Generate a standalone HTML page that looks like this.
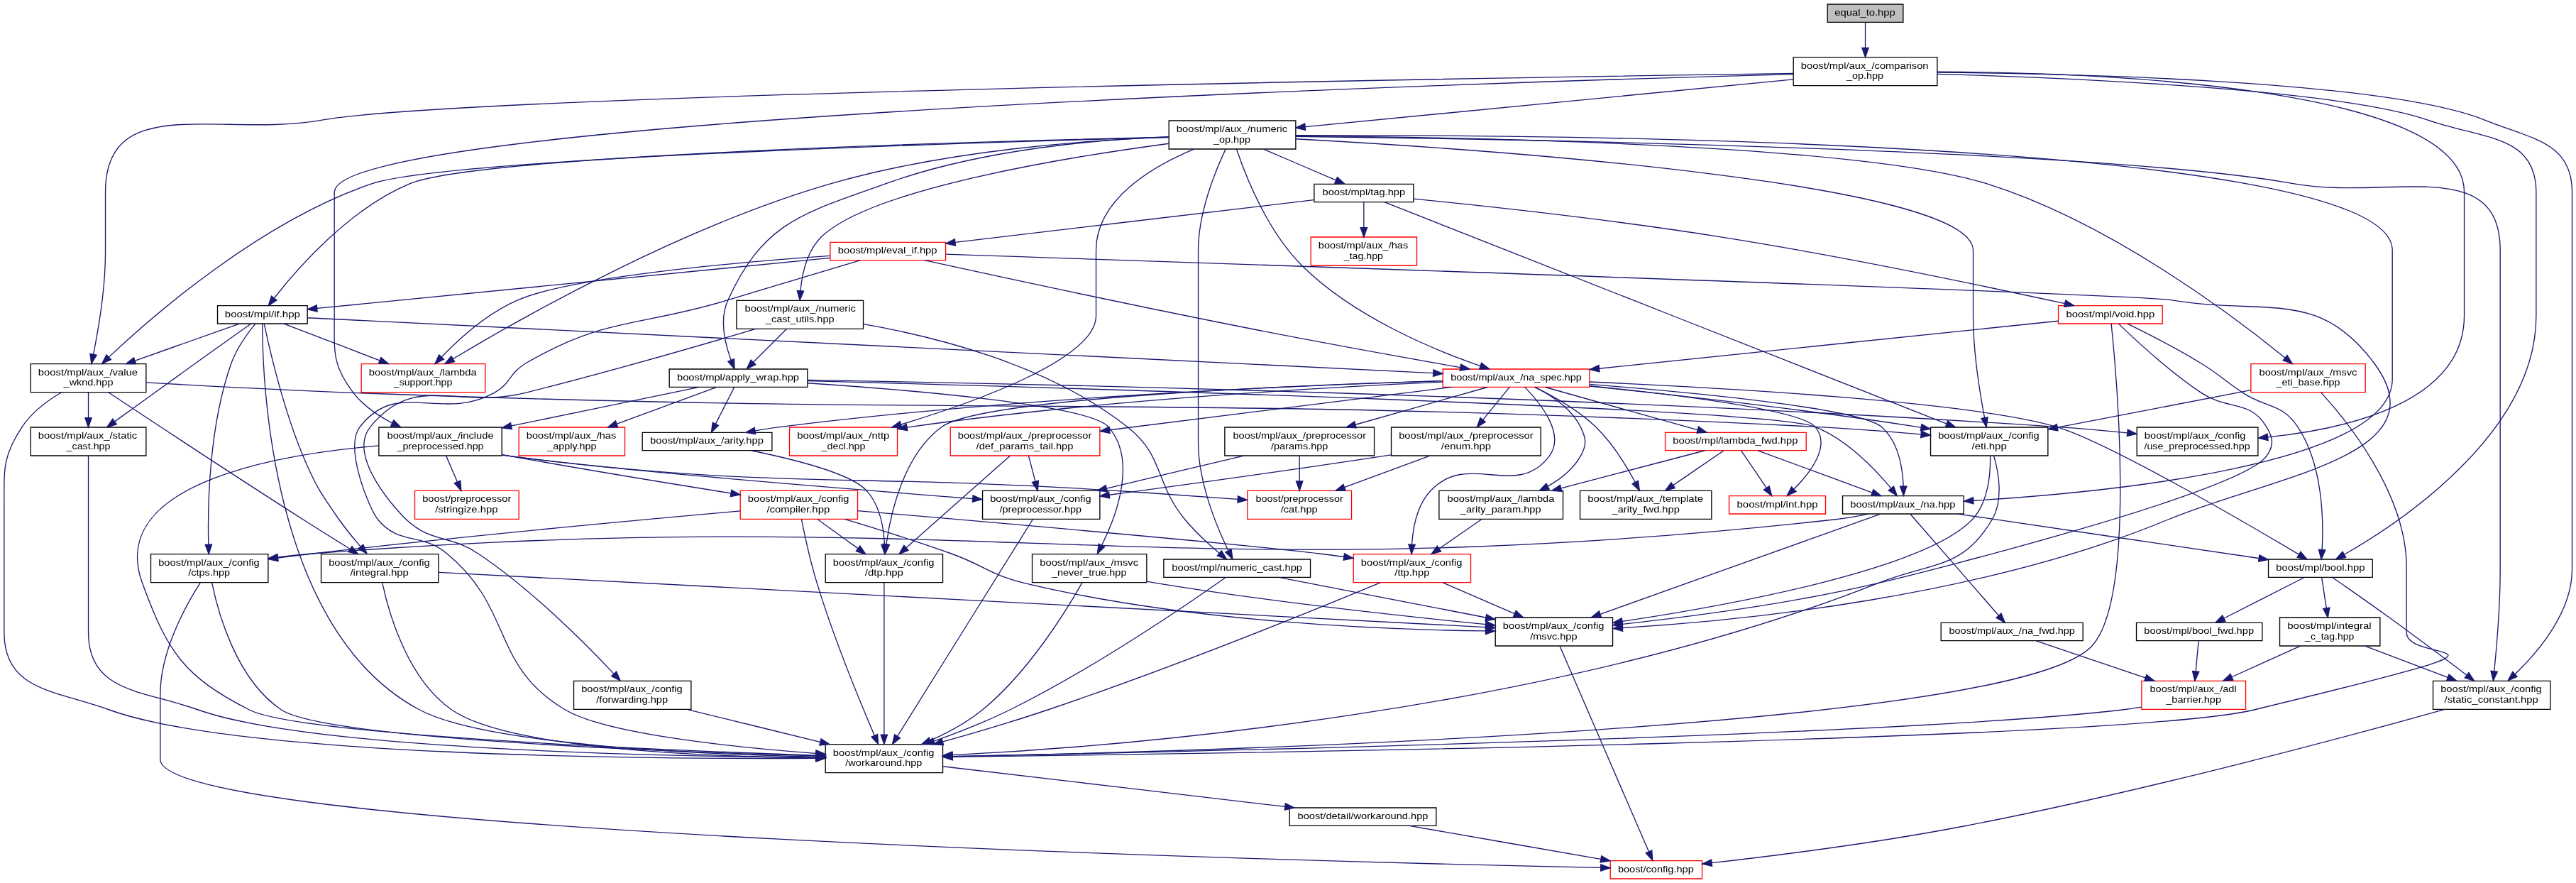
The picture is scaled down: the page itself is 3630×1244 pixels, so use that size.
<!DOCTYPE html>
<html><head><meta charset="utf-8"><title>equal_to.hpp</title>
<style>
html,body{margin:0;padding:0;background:#fff;}
body{width:3630px;height:1244px;overflow:hidden;font-family:"Liberation Sans",sans-serif;}
svg{display:block;will-change:transform;}
text{fill:#000;}
</style></head><body>
<svg width="3630" height="1244" viewBox="0 0 2722.5 933">
<g transform="translate(4 929)" font-family="Liberation Sans, sans-serif" font-size="9.75" text-anchor="middle">
<polygon fill="white" stroke="transparent" points="-4,4 -4,-929 2718.4,-929 2718.4,4 -4,4"/>
<g>
<polygon fill="#bfbfbf" stroke="black" points="1927.4,-905.5 1927.4,-924.5 2007.4,-924.5 2007.4,-905.5 1927.4,-905.5"/>
<text x="1967.02" y="-912.5" textLength="64.07" lengthAdjust="spacingAndGlyphs">equal_to.hpp</text>
</g>
<g>
<polygon fill="white" stroke="black" points="1891.4,-838.5 1891.4,-868.5 2043.4,-868.5 2043.4,-838.5 1891.4,-838.5"/>
<text text-anchor="start" x="1899.40" y="-856.5" textLength="134.71" lengthAdjust="spacingAndGlyphs">boost/mpl/aux_/comparison</text>
<text x="1967.02" y="-845.5" textLength="38.93" lengthAdjust="spacingAndGlyphs">_op.hpp</text>
</g>
<g>
<path fill="none" stroke="midnightblue" d="M1967.4,-905.48C1967.4,-898.47 1967.4,-888.19 1967.4,-878.7"/>
<polygon fill="midnightblue" stroke="midnightblue" points="1970.9,-878.52 1967.4,-868.52 1963.9,-878.52 1970.9,-878.52"/>
</g>
<g>
<polygon fill="white" stroke="black" points="2393.4,-319 2393.4,-338 2503.4,-338 2503.4,-319 2393.4,-319"/>
<text x="2448.40" y="-326" textLength="93.90" lengthAdjust="spacingAndGlyphs">boost/mpl/bool.hpp</text>
</g>
<g>
<path fill="none" stroke="midnightblue" d="M2043.57,-850.74C2181.87,-846.78 2468.64,-834.78 2562.4,-802 2619.89,-781.9 2676.4,-786.89 2676.4,-726 2676.4,-726 2676.4,-726 2676.4,-595.5 2676.4,-471.95 2532.85,-376.99 2473.56,-343.04"/>
<polygon fill="midnightblue" stroke="midnightblue" points="2475.23,-339.97 2464.8,-338.12 2471.8,-346.07 2475.23,-339.97"/>
</g>
<g>
<polygon fill="white" stroke="black" points="2567.4,-179.5 2567.4,-209.5 2691.4,-209.5 2691.4,-179.5 2567.4,-179.5"/>
<text text-anchor="start" x="2575.40" y="-197.5" textLength="106.92" lengthAdjust="spacingAndGlyphs">boost/mpl/aux_/config</text>
<text x="2629.02" y="-186.5" textLength="99.26" lengthAdjust="spacingAndGlyphs">/static_constant.hpp</text>
</g>
<g>
<path fill="none" stroke="midnightblue" d="M2043.68,-852.36C2193.22,-851.14 2519.29,-843.63 2622.4,-802 2671.58,-782.15 2714.4,-779.04 2714.4,-726 2714.4,-726 2714.4,-726 2714.4,-327.5 2714.4,-282.54 2679.12,-240.72 2654.02,-216.66"/>
<polygon fill="midnightblue" stroke="midnightblue" points="2656.31,-214.02 2646.6,-209.78 2651.55,-219.15 2656.31,-214.02"/>
</g>
<g>
<polygon fill="white" stroke="black" points="28.4,-514.5 28.4,-544.5 150.4,-544.5 150.4,-514.5 28.4,-514.5"/>
<text text-anchor="start" x="36.40" y="-532.5" textLength="105.14" lengthAdjust="spacingAndGlyphs">boost/mpl/aux_/value</text>
<text x="89.40" y="-521.5" textLength="52.37" lengthAdjust="spacingAndGlyphs">_wknd.hpp</text>
</g>
<g>
<path fill="none" stroke="midnightblue" d="M1891.35,-851.44C1590.07,-847.09 489.33,-829.43 335.4,-802 230.25,-783.26 107.4,-832.81 107.4,-726 107.4,-726 107.4,-726 107.4,-662.5 107.4,-624.49 99.98,-580.88 94.67,-554.52"/>
<polygon fill="midnightblue" stroke="midnightblue" points="98.09,-553.75 92.62,-544.67 91.23,-555.18 98.09,-553.75"/>
</g>
<g>
<polygon fill="white" stroke="black" points="1231.4,-771.5 1231.4,-801.5 1365.4,-801.5 1365.4,-771.5 1231.4,-771.5"/>
<text text-anchor="start" x="1239.40" y="-789.5" textLength="117.28" lengthAdjust="spacingAndGlyphs">boost/mpl/aux_/numeric</text>
<text x="1298.02" y="-778.5" textLength="38.93" lengthAdjust="spacingAndGlyphs">_op.hpp</text>
</g>
<g>
<path fill="none" stroke="midnightblue" d="M1891.31,-845.11C1762.94,-832.63 1504.73,-807.55 1375.61,-795"/>
<polygon fill="midnightblue" stroke="midnightblue" points="1375.7,-791.49 1365.41,-794.01 1375.02,-798.46 1375.7,-791.49"/>
</g>
<g>
<polygon fill="white" stroke="black" points="2254.4,-447.5 2254.4,-477.5 2382.4,-477.5 2382.4,-447.5 2254.4,-447.5"/>
<text text-anchor="start" x="2262.40" y="-465.5" textLength="106.92" lengthAdjust="spacingAndGlyphs">boost/mpl/aux_/config</text>
<text x="2318.02" y="-454.5" textLength="111.85" lengthAdjust="spacingAndGlyphs">/use_preprocessed.hpp</text>
</g>
<g>
<path fill="none" stroke="midnightblue" d="M2043.44,-853.08C2211.63,-852.33 2600.4,-838.42 2600.4,-726 2600.4,-726 2600.4,-726 2600.4,-595.5 2600.4,-503.69 2476.27,-475.6 2392.72,-467.09"/>
<polygon fill="midnightblue" stroke="midnightblue" points="2393.03,-463.61 2382.75,-466.15 2392.37,-470.57 2393.03,-463.61"/>
</g>
<g>
<polygon fill="white" stroke="black" points="396.4,-447.5 396.4,-477.5 526.4,-477.5 526.4,-447.5 396.4,-447.5"/>
<text text-anchor="start" x="405.15" y="-465.5" textLength="112.55" lengthAdjust="spacingAndGlyphs">boost/mpl/aux_/include</text>
<text x="461.40" y="-454.5" textLength="91.53" lengthAdjust="spacingAndGlyphs">_preprocessed.hpp</text>
</g>
<g>
<path fill="none" stroke="midnightblue" d="M1891.26,-850.59C1570.96,-842.05 349.4,-804.34 349.4,-726 349.4,-726 349.4,-726 349.4,-595.5 349.4,-558.2 346.69,-543.58 369.4,-514 379.88,-500.36 395.14,-489.91 410.23,-482.15"/>
<polygon fill="midnightblue" stroke="midnightblue" points="412.06,-485.15 419.56,-477.67 409.03,-478.85 412.06,-485.15"/>
</g>
<g>
<polygon fill="white" stroke="black" points="2253.9,-252 2253.9,-271 2386.9,-271 2386.9,-252 2253.9,-252"/>
<text x="2320.02" y="-259" textLength="116.02" lengthAdjust="spacingAndGlyphs">boost/mpl/bool_fwd.hpp</text>
</g>
<g>
<path fill="none" stroke="midnightblue" d="M2431.41,-318.87C2409.7,-307.84 2371.91,-288.66 2346.53,-275.77"/>
<polygon fill="midnightblue" stroke="midnightblue" points="2347.97,-272.57 2337.47,-271.17 2344.8,-278.82 2347.97,-272.57"/>
</g>
<g>
<polygon fill="white" stroke="black" points="2405.4,-246.5 2405.4,-276.5 2511.4,-276.5 2511.4,-246.5 2405.4,-246.5"/>
<text text-anchor="start" x="2413.40" y="-264.5" textLength="88.88" lengthAdjust="spacingAndGlyphs">boost/mpl/integral</text>
<text x="2458.02" y="-253.5" textLength="51.86" lengthAdjust="spacingAndGlyphs">_c_tag.hpp</text>
</g>
<g>
<path fill="none" stroke="midnightblue" d="M2449.75,-318.73C2451.01,-310.54 2452.95,-297.92 2454.68,-286.71"/>
<polygon fill="midnightblue" stroke="midnightblue" points="2458.17,-287 2456.24,-276.59 2451.26,-285.94 2458.17,-287"/>
</g>
<g>
<path fill="none" stroke="midnightblue" d="M2460.97,-318.86C2475.41,-308.89 2499.75,-291.96 2520.4,-277 2548.78,-256.44 2580.87,-232.35 2602.83,-215.72"/>
<polygon fill="midnightblue" stroke="midnightblue" points="2605.16,-218.35 2611.02,-209.52 2600.93,-212.77 2605.16,-218.35"/>
</g>
<g>
<polygon fill="white" stroke="red" points="2259.4,-179.5 2259.4,-209.5 2369.4,-209.5 2369.4,-179.5 2259.4,-179.5"/>
<text text-anchor="start" x="2268.15" y="-197.5" textLength="91.58" lengthAdjust="spacingAndGlyphs">boost/mpl/aux_/adl</text>
<text x="2314.38" y="-186.5" textLength="58.36" lengthAdjust="spacingAndGlyphs">_barrier.hpp</text>
</g>
<g>
<path fill="none" stroke="midnightblue" d="M2319.59,-251.73C2318.84,-243.54 2317.67,-230.92 2316.64,-219.71"/>
<polygon fill="midnightblue" stroke="midnightblue" points="2320.11,-219.22 2315.7,-209.59 2313.14,-219.87 2320.11,-219.22"/>
</g>
<g>
<polygon fill="white" stroke="black" points="868.4,-112.5 868.4,-142.5 992.4,-142.5 992.4,-112.5 868.4,-112.5"/>
<text text-anchor="start" x="876.40" y="-130.5" textLength="106.92" lengthAdjust="spacingAndGlyphs">boost/mpl/aux_/config</text>
<text x="930.02" y="-119.5" textLength="81.02" lengthAdjust="spacingAndGlyphs">/workaround.hpp</text>
</g>
<g>
<path fill="none" stroke="midnightblue" d="M2259.26,-181.85C2252.59,-180.73 2245.86,-179.74 2239.4,-179 1996.89,-151.04 1240.55,-134.46 1002.74,-129.84"/>
<polygon fill="midnightblue" stroke="midnightblue" points="1002.54,-126.33 992.48,-129.64 1002.41,-133.33 1002.54,-126.33"/>
</g>
<g>
<polygon fill="white" stroke="black" points="1358.9,-56.5 1358.9,-75.5 1513.9,-75.5 1513.9,-56.5 1358.9,-56.5"/>
<text x="1436.40" y="-63.5" textLength="137.96" lengthAdjust="spacingAndGlyphs">boost/detail/workaround.hpp</text>
</g>
<g>
<path fill="none" stroke="midnightblue" d="M992.45,-119.2C1083.28,-108.52 1252.61,-88.61 1353.86,-76.71"/>
<polygon fill="midnightblue" stroke="midnightblue" points="1354.52,-80.15 1364.04,-75.51 1353.7,-73.2 1354.52,-80.15"/>
</g>
<g>
<polygon fill="white" stroke="red" points="1697.9,-0.5 1697.9,-19.5 1794.9,-19.5 1794.9,-0.5 1697.9,-0.5"/>
<text x="1746.02" y="-7.5" textLength="80.15" lengthAdjust="spacingAndGlyphs">boost/config.hpp</text>
</g>
<g>
<path fill="none" stroke="midnightblue" d="M1485.52,-56.44C1540.36,-46.89 1629.07,-31.44 1687.57,-21.25"/>
<polygon fill="midnightblue" stroke="midnightblue" points="1688.52,-24.64 1697.77,-19.47 1687.32,-17.74 1688.52,-24.64"/>
</g>
<g>
<path fill="none" stroke="midnightblue" d="M2427.16,-246.4C2405.93,-236.81 2377.65,-224.05 2354.73,-213.7"/>
<polygon fill="midnightblue" stroke="midnightblue" points="2356.14,-210.5 2345.59,-209.58 2353.26,-216.88 2356.14,-210.5"/>
</g>
<g>
<path fill="none" stroke="midnightblue" d="M2495.51,-246.4C2521.17,-236.64 2555.49,-223.59 2582.97,-213.15"/>
<polygon fill="midnightblue" stroke="midnightblue" points="2584.27,-216.4 2592.37,-209.58 2581.78,-209.86 2584.27,-216.4"/>
</g>
<g>
<path fill="none" stroke="midnightblue" d="M2579.77,-179.42C2482.78,-152.32 2261,-92.38 2071.4,-56 1979.01,-38.27 1870.55,-24.69 1805.22,-17.28"/>
<polygon fill="midnightblue" stroke="midnightblue" points="1805.44,-13.78 1795.12,-16.14 1804.66,-20.74 1805.44,-13.78"/>
</g>
<g>
<path fill="none" stroke="midnightblue" d="M60.98,-514.4C46.45,-505.8 29.7,-493.47 19.4,-478 -1.21,-447.04 0.4,-433.69 0.4,-396.5 0.4,-396.5 0.4,-396.5 0.4,-260.5 0.4,-199.3 53.86,-199.84 111.4,-179 247.66,-129.66 684.6,-126.85 858.26,-127.77"/>
<polygon fill="midnightblue" stroke="midnightblue" points="858.3,-131.27 868.32,-127.83 858.34,-124.27 858.3,-131.27"/>
</g>
<g>
<polygon fill="white" stroke="black" points="28.4,-447.5 28.4,-477.5 150.4,-477.5 150.4,-447.5 28.4,-447.5"/>
<text text-anchor="start" x="36.40" y="-465.5" textLength="104.53" lengthAdjust="spacingAndGlyphs">boost/mpl/aux_/static</text>
<text x="89.40" y="-454.5" textLength="46.47" lengthAdjust="spacingAndGlyphs">_cast.hpp</text>
</g>
<g>
<path fill="none" stroke="midnightblue" d="M89.4,-514.4C89.4,-506.64 89.4,-496.81 89.4,-487.86"/>
<polygon fill="midnightblue" stroke="midnightblue" points="92.9,-487.58 89.4,-477.58 85.9,-487.58 92.9,-487.58"/>
</g>
<g>
<polygon fill="white" stroke="black" points="335.4,-313.5 335.4,-343.5 459.4,-343.5 459.4,-313.5 335.4,-313.5"/>
<text text-anchor="start" x="343.40" y="-331.5" textLength="106.92" lengthAdjust="spacingAndGlyphs">boost/mpl/aux_/config</text>
<text x="397.02" y="-320.5" textLength="61.89" lengthAdjust="spacingAndGlyphs">/integral.hpp</text>
</g>
<g>
<path fill="none" stroke="midnightblue" d="M110.58,-514.42C150.61,-487.87 240.2,-428.67 316.4,-380 332.6,-369.66 350.73,-358.33 365.74,-349.02"/>
<polygon fill="midnightblue" stroke="midnightblue" points="367.97,-351.76 374.63,-343.52 364.28,-345.81 367.97,-351.76"/>
</g>
<g>
<polygon fill="white" stroke="black" points="2036.4,-447.5 2036.4,-477.5 2160.4,-477.5 2160.4,-447.5 2036.4,-447.5"/>
<text text-anchor="start" x="2044.40" y="-465.5" textLength="106.92" lengthAdjust="spacingAndGlyphs">boost/mpl/aux_/config</text>
<text x="2098.40" y="-454.5" textLength="36.93" lengthAdjust="spacingAndGlyphs">/eti.hpp</text>
</g>
<g>
<path fill="none" stroke="midnightblue" d="M150.56,-524.83C207.27,-521.55 294.01,-516.83 369.4,-514 1055.77,-488.24 1228.44,-512.99 1914.4,-478 1951.24,-476.12 1992.14,-473 2026.01,-470.14"/>
<polygon fill="midnightblue" stroke="midnightblue" points="2026.62,-473.6 2036.29,-469.26 2026.02,-466.62 2026.62,-473.6"/>
</g>
<g>
<path fill="none" stroke="midnightblue" d="M89.4,-447.24C89.4,-423.03 89.4,-372.35 89.4,-329.5 89.4,-329.5 89.4,-329.5 89.4,-260.5 89.4,-197.49 146.02,-200.07 205.4,-179 324.23,-136.83 699.41,-129.73 858.24,-128.64"/>
<polygon fill="midnightblue" stroke="midnightblue" points="858.41,-132.14 868.39,-128.57 858.37,-125.14 858.41,-132.14"/>
</g>
<g>
<path fill="none" stroke="midnightblue" d="M400.07,-313.1C406.55,-282.59 426.2,-211.56 473.4,-179 534.09,-137.13 745.16,-129.39 857.98,-128.33"/>
<polygon fill="midnightblue" stroke="midnightblue" points="858.28,-131.83 868.25,-128.25 858.22,-124.83 858.28,-131.83"/>
</g>
<g>
<polygon fill="white" stroke="black" points="1576.4,-246.5 1576.4,-276.5 1700.4,-276.5 1700.4,-246.5 1576.4,-246.5"/>
<text text-anchor="start" x="1584.40" y="-264.5" textLength="106.92" lengthAdjust="spacingAndGlyphs">boost/mpl/aux_/config</text>
<text x="1638.02" y="-253.5" textLength="49.70" lengthAdjust="spacingAndGlyphs">/msvc.hpp</text>
</g>
<g>
<path fill="none" stroke="midnightblue" d="M459.8,-324.23C668.69,-313.29 1342.89,-277.98 1565.98,-266.29"/>
<polygon fill="midnightblue" stroke="midnightblue" points="1566.45,-269.77 1576.26,-265.76 1566.09,-262.78 1566.45,-269.77"/>
</g>
<g>
<path fill="none" stroke="midnightblue" d="M1644.52,-246.37C1662.94,-203.82 1717.88,-76.89 1738.48,-29.3"/>
<polygon fill="midnightblue" stroke="midnightblue" points="1741.78,-30.5 1742.54,-19.93 1735.35,-27.72 1741.78,-30.5"/>
</g>
<g>
<path fill="none" stroke="midnightblue" d="M2103.23,-447.42C2108.2,-430.23 2113.66,-400.88 2101.4,-380 2070.48,-327.32 2038.23,-335.39 1981.4,-313 1632.02,-175.32 1176.95,-140 1002.65,-131.26"/>
<polygon fill="midnightblue" stroke="midnightblue" points="1002.72,-127.76 992.57,-130.77 1002.38,-134.75 1002.72,-127.76"/>
</g>
<g>
<path fill="none" stroke="midnightblue" d="M2099.39,-447.4C2099.85,-429.36 2097.77,-398.27 2080.4,-380 2029.94,-326.91 1822.65,-289.32 1710.79,-272.46"/>
<polygon fill="midnightblue" stroke="midnightblue" points="1711,-268.95 1700.6,-270.94 1709.97,-275.87 1711,-268.95"/>
</g>
<g>
<path fill="none" stroke="midnightblue" d="M1365.75,-784.81C1575.52,-782.3 2215.33,-771.76 2419.4,-735 2520.04,-716.87 2638.4,-766.75 2638.4,-664.5 2638.4,-664.5 2638.4,-664.5 2638.4,-327.5 2638.4,-289.92 2634.73,-246.45 2632.07,-219.98"/>
<polygon fill="midnightblue" stroke="midnightblue" points="2635.52,-219.32 2631.01,-209.74 2628.56,-220.05 2635.52,-219.32"/>
</g>
<g>
<path fill="none" stroke="midnightblue" d="M1231.34,-783.85C1034.68,-778.72 468.36,-761.77 389.4,-735 271.75,-695.11 157.43,-595.42 111.05,-551.66"/>
<polygon fill="midnightblue" stroke="midnightblue" points="113.35,-549.02 103.7,-544.65 108.52,-554.08 113.35,-549.02"/>
</g>
<g>
<path fill="none" stroke="midnightblue" d="M1365.5,-782.16C1555.14,-771.83 2081.4,-736.67 2081.4,-664.5 2081.4,-664.5 2081.4,-664.5 2081.4,-595.5 2081.4,-557.52 2088.41,-513.9 2093.43,-487.54"/>
<polygon fill="midnightblue" stroke="midnightblue" points="2096.87,-488.17 2095.36,-477.68 2090,-486.82 2096.87,-488.17"/>
</g>
<g>
<polygon fill="white" stroke="black" points="1225.9,-319 1225.9,-338 1380.9,-338 1380.9,-319 1225.9,-319"/>
<text x="1303.40" y="-326" textLength="137.75" lengthAdjust="spacingAndGlyphs">boost/mpl/numeric_cast.hpp</text>
</g>
<g>
<path fill="none" stroke="midnightblue" d="M1291.29,-771.38C1280.8,-749.21 1262.4,-704.61 1262.4,-664.5 1262.4,-664.5 1262.4,-664.5 1262.4,-461.5 1262.4,-419.09 1281.95,-372.32 1294.05,-347.42"/>
<polygon fill="midnightblue" stroke="midnightblue" points="1297.34,-348.68 1298.7,-338.17 1291.08,-345.53 1297.34,-348.68"/>
</g>
<g>
<polygon fill="white" stroke="black" points="703.4,-520 703.4,-539 849.4,-539 849.4,-520 703.4,-520"/>
<text x="776.02" y="-527" textLength="129.07" lengthAdjust="spacingAndGlyphs">boost/mpl/apply_wrap.hpp</text>
</g>
<g>
<path fill="none" stroke="midnightblue" d="M1231.29,-784.57C1156.33,-781.65 1032.39,-771.14 932.4,-735 845.71,-703.66 803.61,-695.89 765.4,-612 756.09,-591.56 762.38,-565.45 768.61,-548.37"/>
<polygon fill="midnightblue" stroke="midnightblue" points="771.88,-549.62 772.34,-539.04 765.38,-547.02 771.88,-549.62"/>
</g>
<g>
<polygon fill="white" stroke="black" points="1943.4,-386 1943.4,-405 2071.4,-405 2071.4,-386 1943.4,-386"/>
<text x="2007.02" y="-393" textLength="111.00" lengthAdjust="spacingAndGlyphs">boost/mpl/aux_/na.hpp</text>
</g>
<g>
<path fill="none" stroke="midnightblue" d="M1365.63,-785.98C1622.06,-786.93 2524.4,-781.93 2524.4,-664.5 2524.4,-664.5 2524.4,-664.5 2524.4,-528.5 2524.4,-438.2 2224.6,-408.88 2081.6,-400.04"/>
<polygon fill="midnightblue" stroke="midnightblue" points="2081.77,-396.54 2071.58,-399.43 2081.35,-403.53 2081.77,-396.54"/>
</g>
<g>
<polygon fill="white" stroke="black" points="225.9,-587 225.9,-606 320.9,-606 320.9,-587 225.9,-587"/>
<text x="273.40" y="-594" textLength="79.60" lengthAdjust="spacingAndGlyphs">boost/mpl/if.hpp</text>
</g>
<g>
<path fill="none" stroke="midnightblue" d="M1231.08,-784.11C1039.89,-779.81 502.73,-765.16 429.4,-735 365.28,-708.63 309.58,-644.44 285.74,-614.02"/>
<polygon fill="midnightblue" stroke="midnightblue" points="288.5,-611.87 279.64,-606.07 282.95,-616.13 288.5,-611.87"/>
</g>
<g>
<polygon fill="white" stroke="red" points="1520.9,-520 1520.9,-539 1675.9,-539 1675.9,-520 1520.9,-520"/>
<text x="1598.40" y="-527" textLength="138.46" lengthAdjust="spacingAndGlyphs">boost/mpl/aux_/na_spec.hpp</text>
</g>
<g>
<path fill="none" stroke="midnightblue" d="M1302.87,-771.29C1312.01,-744.23 1335.14,-684.73 1372.4,-648 1427.2,-593.98 1511.93,-559.11 1560.57,-542.31"/>
<polygon fill="midnightblue" stroke="midnightblue" points="1561.74,-545.61 1570.09,-539.1 1559.5,-538.98 1561.74,-545.61"/>
</g>
<g>
<polygon fill="white" stroke="red" points="830.4,-447.5 830.4,-477.5 944.4,-477.5 944.4,-447.5 830.4,-447.5"/>
<text text-anchor="start" x="838.40" y="-465.5" textLength="97.60" lengthAdjust="spacingAndGlyphs">boost/mpl/aux_/nttp</text>
<text x="887.40" y="-454.5" textLength="46.49" lengthAdjust="spacingAndGlyphs">_decl.hpp</text>
</g>
<g>
<path fill="none" stroke="midnightblue" d="M1257.91,-771.41C1215.32,-753.7 1154.4,-718.87 1154.4,-664.5 1154.4,-664.5 1154.4,-664.5 1154.4,-595.5 1154.4,-549.82 1027.21,-504.31 948.4,-480.5"/>
<polygon fill="midnightblue" stroke="midnightblue" points="949.15,-477.07 938.57,-477.57 947.15,-483.78 949.15,-477.07"/>
</g>
<g>
<polygon fill="white" stroke="red" points="377.9,-514.5 377.9,-544.5 508.9,-544.5 508.9,-514.5 377.9,-514.5"/>
<text text-anchor="start" x="385.90" y="-532.5" textLength="113.80" lengthAdjust="spacingAndGlyphs">boost/mpl/aux_/lambda</text>
<text x="443.02" y="-521.5" textLength="61.86" lengthAdjust="spacingAndGlyphs">_support.hpp</text>
</g>
<g>
<path fill="none" stroke="midnightblue" d="M1231.35,-784.18C1146.64,-781.01 997.09,-770.38 874.4,-735 716.37,-689.42 544.17,-591.5 474.87,-549.87"/>
<polygon fill="midnightblue" stroke="midnightblue" points="476.54,-546.79 466.17,-544.61 472.92,-552.78 476.54,-546.79"/>
</g>
<g>
<polygon fill="white" stroke="black" points="1384.9,-715.5 1384.9,-734.5 1489.9,-734.5 1489.9,-715.5 1384.9,-715.5"/>
<text x="1437.40" y="-722.5" textLength="87.43" lengthAdjust="spacingAndGlyphs">boost/mpl/tag.hpp</text>
</g>
<g>
<path fill="none" stroke="midnightblue" d="M1331.34,-771.4C1354.56,-761.46 1385.39,-748.26 1407.82,-738.66"/>
<polygon fill="midnightblue" stroke="midnightblue" points="1409.36,-741.81 1417.18,-734.66 1406.61,-735.38 1409.36,-741.81"/>
</g>
<g>
<polygon fill="white" stroke="black" points="774.4,-581.5 774.4,-611.5 908.4,-611.5 908.4,-581.5 774.4,-581.5"/>
<text text-anchor="start" x="783.15" y="-599.5" textLength="117.28" lengthAdjust="spacingAndGlyphs">boost/mpl/aux_/numeric</text>
<text x="841.40" y="-588.5" textLength="72.49" lengthAdjust="spacingAndGlyphs">_cast_utils.hpp</text>
</g>
<g>
<path fill="none" stroke="midnightblue" d="M1231.31,-777.33C1122.99,-762.82 916.43,-729.27 864.4,-679 849.1,-664.21 843.75,-640.08 841.99,-621.91"/>
<polygon fill="midnightblue" stroke="midnightblue" points="845.47,-621.5 841.31,-611.76 838.48,-621.97 845.47,-621.5"/>
</g>
<g>
<polygon fill="white" stroke="red" points="2374.9,-514.5 2374.9,-544.5 2495.9,-544.5 2495.9,-514.5 2374.9,-514.5"/>
<text text-anchor="start" x="2383.65" y="-532.5" textLength="103.44" lengthAdjust="spacingAndGlyphs">boost/mpl/aux_/msvc</text>
<text x="2435.40" y="-521.5" textLength="67.40" lengthAdjust="spacingAndGlyphs">_eti_base.hpp</text>
</g>
<g>
<path fill="none" stroke="midnightblue" d="M1365.45,-785.32C1531.84,-784.22 1959.99,-777.24 2095.4,-735 2225.54,-694.4 2357.67,-594.35 2410.93,-551.04"/>
<polygon fill="midnightblue" stroke="midnightblue" points="2413.28,-553.64 2418.79,-544.59 2408.84,-548.23 2413.28,-553.64"/>
</g>
<g>
<path fill="none" stroke="midnightblue" d="M1291.39,-318.9C1257.09,-294.62 1155.23,-224.32 1063.4,-179 1037.69,-166.31 1007.95,-154.74 983.12,-145.89"/>
<polygon fill="midnightblue" stroke="midnightblue" points="984.11,-142.53 973.51,-142.51 981.78,-149.13 984.11,-142.53"/>
</g>
<g>
<path fill="none" stroke="midnightblue" d="M1347.54,-318.94C1403.23,-308.13 1499.73,-289.41 1566.21,-276.51"/>
<polygon fill="midnightblue" stroke="midnightblue" points="1567.05,-279.91 1576.2,-274.57 1565.71,-273.04 1567.05,-279.91"/>
</g>
<g>
<polygon fill="white" stroke="black" points="674.9,-453 674.9,-472 811.9,-472 811.9,-453 674.9,-453"/>
<text x="743.02" y="-460" textLength="119.97" lengthAdjust="spacingAndGlyphs">boost/mpl/aux_/arity.hpp</text>
</g>
<g>
<path fill="none" stroke="midnightblue" d="M771.95,-519.73C766.96,-509.89 758.72,-493.66 752.37,-481.16"/>
<polygon fill="midnightblue" stroke="midnightblue" points="755.43,-479.46 747.78,-472.13 749.19,-482.63 755.43,-479.46"/>
</g>
<g>
<polygon fill="white" stroke="red" points="544.4,-447.5 544.4,-477.5 656.4,-477.5 656.4,-447.5 544.4,-447.5"/>
<text text-anchor="start" x="552.40" y="-465.5" textLength="94.75" lengthAdjust="spacingAndGlyphs">boost/mpl/aux_/has</text>
<text x="600.40" y="-454.5" textLength="51.81" lengthAdjust="spacingAndGlyphs">_apply.hpp</text>
</g>
<g>
<path fill="none" stroke="midnightblue" d="M753.03,-519.87C726.39,-510.03 682.15,-493.69 648.13,-481.13"/>
<polygon fill="midnightblue" stroke="midnightblue" points="648.98,-477.71 638.39,-477.53 646.56,-484.28 648.98,-477.71"/>
</g>
<g>
<path fill="none" stroke="midnightblue" d="M849.55,-526.59C1093.25,-520.04 1865,-497.85 1914.4,-478 1948.42,-464.34 1978.43,-432.65 1994.64,-413.05"/>
<polygon fill="midnightblue" stroke="midnightblue" points="1997.38,-415.24 2000.91,-405.25 1991.92,-410.86 1997.38,-415.24"/>
</g>
<g>
<polygon fill="white" stroke="black" points="1086.9,-313.5 1086.9,-343.5 1207.9,-343.5 1207.9,-313.5 1086.9,-313.5"/>
<text text-anchor="start" x="1094.90" y="-331.5" textLength="104.19" lengthAdjust="spacingAndGlyphs">boost/mpl/aux_/msvc</text>
<text x="1147.02" y="-320.5" textLength="79.16" lengthAdjust="spacingAndGlyphs">_never_true.hpp</text>
</g>
<g>
<path fill="none" stroke="midnightblue" d="M849.49,-524.2C956.85,-517.13 1146.78,-501.45 1167.4,-478 1197.91,-443.3 1176.46,-385.26 1160.46,-352.98"/>
<polygon fill="midnightblue" stroke="midnightblue" points="1163.43,-351.11 1155.73,-343.84 1157.22,-354.33 1163.43,-351.11"/>
</g>
<g>
<path fill="none" stroke="midnightblue" d="M849.74,-527.41C1057.1,-523.99 1665.35,-511.63 2169.4,-478 2193.8,-476.37 2220.38,-473.98 2244.25,-471.61"/>
<polygon fill="midnightblue" stroke="midnightblue" points="2244.7,-475.08 2254.3,-470.6 2244,-468.12 2244.7,-475.08"/>
</g>
<g>
<path fill="none" stroke="midnightblue" d="M734.9,-519.94C684.57,-509.55 598.8,-491.85 536.7,-479.04"/>
<polygon fill="midnightblue" stroke="midnightblue" points="537.06,-475.54 526.56,-476.95 535.65,-482.39 537.06,-475.54"/>
</g>
<g>
<polygon fill="white" stroke="black" points="868.4,-313.5 868.4,-343.5 992.4,-343.5 992.4,-313.5 868.4,-313.5"/>
<text text-anchor="start" x="876.40" y="-331.5" textLength="106.92" lengthAdjust="spacingAndGlyphs">boost/mpl/aux_/config</text>
<text x="930.40" y="-320.5" textLength="40.70" lengthAdjust="spacingAndGlyphs">/dtp.hpp</text>
</g>
<g>
<path fill="none" stroke="midnightblue" d="M789.93,-452.93C833.65,-443.95 894.78,-428.71 911.4,-411 925.8,-395.67 929.99,-371.61 930.91,-353.6"/>
<polygon fill="midnightblue" stroke="midnightblue" points="934.41,-353.63 931.13,-343.56 927.42,-353.48 934.41,-353.63"/>
</g>
<g>
<path fill="none" stroke="midnightblue" d="M930.4,-313.19C930.4,-279.48 930.4,-194.8 930.4,-152.84"/>
<polygon fill="midnightblue" stroke="midnightblue" points="933.9,-152.68 930.4,-142.68 926.9,-152.68 933.9,-152.68"/>
</g>
<g>
<path fill="none" stroke="midnightblue" d="M2065.51,-385.94C2147.66,-373.83 2297.28,-351.77 2383.15,-339.12"/>
<polygon fill="midnightblue" stroke="midnightblue" points="2383.91,-342.54 2393.29,-337.62 2382.89,-335.62 2383.91,-342.54"/>
</g>
<g>
<path fill="none" stroke="midnightblue" d="M1983.48,-385.94C1923.9,-364.63 1767.95,-308.84 1687.69,-280.13"/>
<polygon fill="midnightblue" stroke="midnightblue" points="1688.42,-276.67 1677.82,-276.6 1686.06,-283.27 1688.42,-276.67"/>
</g>
<g>
<polygon fill="white" stroke="black" points="2047.4,-252 2047.4,-271 2197.4,-271 2197.4,-252 2047.4,-252"/>
<text x="2122.40" y="-259" textLength="133.12" lengthAdjust="spacingAndGlyphs">boost/mpl/aux_/na_fwd.hpp</text>
</g>
<g>
<path fill="none" stroke="midnightblue" d="M2014.95,-385.84C2033.88,-364.11 2083.62,-307.02 2108.22,-278.79"/>
<polygon fill="midnightblue" stroke="midnightblue" points="2111.05,-280.86 2114.98,-271.02 2105.77,-276.26 2111.05,-280.86"/>
</g>
<g>
<polygon fill="white" stroke="black" points="155.4,-313.5 155.4,-343.5 279.4,-343.5 279.4,-313.5 155.4,-313.5"/>
<text text-anchor="start" x="163.40" y="-331.5" textLength="106.92" lengthAdjust="spacingAndGlyphs">boost/mpl/aux_/config</text>
<text x="217.02" y="-320.5" textLength="44.31" lengthAdjust="spacingAndGlyphs">/ctps.hpp</text>
</g>
<g>
<path fill="none" stroke="midnightblue" d="M1970.83,-385.94C1959.25,-383.58 1946.35,-381.31 1934.4,-380 1223.82,-302.07 1039.11,-399.22 326.4,-344 314.51,-343.08 301.92,-341.74 289.7,-340.25"/>
<polygon fill="midnightblue" stroke="midnightblue" points="289.89,-336.75 279.53,-338.96 289.01,-343.69 289.89,-336.75"/>
</g>
<g>
<path fill="none" stroke="midnightblue" d="M2147.9,-251.87C2177.21,-241.95 2226.06,-225.41 2263.29,-212.81"/>
<polygon fill="midnightblue" stroke="midnightblue" points="2264.62,-216.05 2272.97,-209.53 2262.37,-209.42 2264.62,-216.05"/>
</g>
<g>
<path fill="none" stroke="midnightblue" d="M219.9,-313.45C226.13,-282.98 245.46,-210.99 293.4,-179 339.48,-148.25 701.44,-134.74 858.31,-130.29"/>
<polygon fill="midnightblue" stroke="midnightblue" points="858.44,-133.79 868.34,-130.01 858.24,-126.79 858.44,-133.79"/>
</g>
<g>
<path fill="none" stroke="midnightblue" d="M207.62,-313.19C192.56,-289.71 165.4,-241.07 165.4,-195.5 165.4,-195.5 165.4,-195.5 165.4,-126.5 165.4,-48.64 1401.15,-18.17 1687.61,-12.16"/>
<polygon fill="midnightblue" stroke="midnightblue" points="1687.86,-15.65 1697.79,-11.95 1687.72,-8.65 1687.86,-15.65"/>
</g>
<g>
<path fill="none" stroke="midnightblue" d="M1139.79,-313.48C1123.67,-284.91 1083.53,-219.23 1034.4,-179 1018.14,-165.68 997.77,-154.81 979.39,-146.61"/>
<polygon fill="midnightblue" stroke="midnightblue" points="980.55,-143.3 969.98,-142.56 977.79,-149.73 980.55,-143.3"/>
</g>
<g>
<path fill="none" stroke="midnightblue" d="M1208.05,-314.61C1211.21,-314.04 1214.34,-313.5 1217.4,-313 1339.23,-293.11 1482.09,-277.61 1566.16,-269.28"/>
<polygon fill="midnightblue" stroke="midnightblue" points="1566.5,-272.77 1576.11,-268.3 1565.82,-265.8 1566.5,-272.77"/>
</g>
<g>
<path fill="none" stroke="midnightblue" d="M396.22,-458.06C293.07,-449.4 107.66,-419.05 146.4,-313 173.14,-239.83 190.04,-214.47 259.4,-179 311.66,-152.28 695.37,-136.39 857.94,-130.79"/>
<polygon fill="midnightblue" stroke="midnightblue" points="858.45,-134.28 868.33,-130.44 858.21,-127.28 858.45,-134.28"/>
</g>
<g>
<polygon fill="white" stroke="red" points="778.4,-380.5 778.4,-410.5 902.4,-410.5 902.4,-380.5 778.4,-380.5"/>
<text text-anchor="start" x="786.40" y="-398.5" textLength="106.92" lengthAdjust="spacingAndGlyphs">boost/mpl/aux_/config</text>
<text x="839.65" y="-387.5" textLength="66.69" lengthAdjust="spacingAndGlyphs">/compiler.hpp</text>
</g>
<g>
<path fill="none" stroke="midnightblue" d="M526.75,-448.59C529.68,-448.04 532.57,-447.51 535.4,-447 614.95,-432.62 706.47,-417.68 768.34,-407.82"/>
<polygon fill="midnightblue" stroke="midnightblue" points="769.07,-411.25 778.39,-406.22 767.97,-404.33 769.07,-411.25"/>
</g>
<g>
<polygon fill="white" stroke="black" points="1034.4,-380.5 1034.4,-410.5 1158.4,-410.5 1158.4,-380.5 1034.4,-380.5"/>
<text text-anchor="start" x="1042.40" y="-398.5" textLength="106.92" lengthAdjust="spacingAndGlyphs">boost/mpl/aux_/config</text>
<text x="1095.65" y="-387.5" textLength="86.71" lengthAdjust="spacingAndGlyphs">/preprocessor.hpp</text>
</g>
<g>
<path fill="none" stroke="midnightblue" d="M526.71,-448.32C529.64,-447.85 532.55,-447.41 535.4,-447 627.78,-433.83 894.17,-412.23 1023.81,-402.09"/>
<polygon fill="midnightblue" stroke="midnightblue" points="1024.34,-405.56 1034.03,-401.29 1023.79,-398.58 1024.34,-405.56"/>
</g>
<g>
<polygon fill="white" stroke="red" points="1314.4,-380.5 1314.4,-410.5 1424.4,-410.5 1424.4,-380.5 1314.4,-380.5"/>
<text text-anchor="start" x="1323.15" y="-398.5" textLength="92.38" lengthAdjust="spacingAndGlyphs">boost/preprocessor</text>
<text x="1369.02" y="-387.5" textLength="38.88" lengthAdjust="spacingAndGlyphs">/cat.hpp</text>
</g>
<g>
<path fill="none" stroke="midnightblue" d="M526.7,-448.2C529.63,-447.76 532.55,-447.36 535.4,-447 814.55,-411.87 886.64,-429.07 1167.4,-411 1213.08,-408.06 1264.53,-404.36 1304.07,-401.43"/>
<polygon fill="midnightblue" stroke="midnightblue" points="1304.41,-404.92 1314.12,-400.69 1303.89,-397.94 1304.41,-404.92"/>
</g>
<g>
<polygon fill="white" stroke="red" points="434.4,-380.5 434.4,-410.5 544.4,-410.5 544.4,-380.5 434.4,-380.5"/>
<text text-anchor="start" x="442.40" y="-398.5" textLength="93.88" lengthAdjust="spacingAndGlyphs">boost/preprocessor</text>
<text x="489.02" y="-387.5" textLength="66.22" lengthAdjust="spacingAndGlyphs">/stringize.hpp</text>
</g>
<g>
<path fill="none" stroke="midnightblue" d="M467.48,-447.4C470.93,-439.39 475.33,-429.16 479.29,-419.98"/>
<polygon fill="midnightblue" stroke="midnightblue" points="482.6,-421.15 483.34,-410.58 476.17,-418.38 482.6,-421.15"/>
</g>
<g>
<path fill="none" stroke="midnightblue" d="M843.11,-380.21C846.36,-363.81 852.28,-336.19 859.4,-313 877.57,-253.88 905.35,-186.57 920.2,-151.89"/>
<polygon fill="midnightblue" stroke="midnightblue" points="923.45,-153.19 924.2,-142.62 917.02,-150.41 923.45,-153.19"/>
</g>
<g>
<path fill="none" stroke="midnightblue" d="M888.64,-380.45C920.79,-370.83 963.89,-357.41 1001.4,-344 1036.14,-331.58 1042.54,-321.64 1078.4,-313 1249.87,-271.7 1458.24,-263.54 1566.02,-262.32"/>
<polygon fill="midnightblue" stroke="midnightblue" points="1566.16,-265.82 1576.13,-262.22 1566.09,-258.82 1566.16,-265.82"/>
</g>
<g>
<path fill="none" stroke="midnightblue" d="M859.93,-380.4C872.43,-371.37 888.85,-359.51 902.69,-349.52"/>
<polygon fill="midnightblue" stroke="midnightblue" points="904.86,-352.27 910.91,-343.58 900.76,-346.59 904.86,-352.27"/>
</g>
<g>
<path fill="none" stroke="midnightblue" d="M778.22,-389.08C681.49,-380.5 489.18,-362.82 326.4,-344 314.55,-342.63 301.99,-341.06 289.77,-339.48"/>
<polygon fill="midnightblue" stroke="midnightblue" points="289.98,-335.98 279.61,-338.15 289.07,-342.92 289.98,-335.98"/>
</g>
<g>
<polygon fill="white" stroke="red" points="1426.4,-313.5 1426.4,-343.5 1550.4,-343.5 1550.4,-313.5 1426.4,-313.5"/>
<text text-anchor="start" x="1434.40" y="-331.5" textLength="106.92" lengthAdjust="spacingAndGlyphs">boost/mpl/aux_/config</text>
<text x="1488.40" y="-320.5" textLength="36.77" lengthAdjust="spacingAndGlyphs">/ttp.hpp</text>
</g>
<g>
<path fill="none" stroke="midnightblue" d="M902.45,-389.24C1025.66,-378.72 1297.34,-355.15 1390.4,-344 1398.75,-343 1407.48,-341.85 1416.15,-340.65"/>
<polygon fill="midnightblue" stroke="midnightblue" points="1416.85,-344.09 1426.26,-339.22 1415.87,-337.16 1416.85,-344.09"/>
</g>
<g>
<path fill="none" stroke="midnightblue" d="M1454.76,-313.42C1388.27,-285.84 1235.06,-223.52 1103.4,-179 1067.01,-166.69 1025.72,-154.57 992.61,-145.29"/>
<polygon fill="midnightblue" stroke="midnightblue" points="993.19,-141.82 982.61,-142.51 991.31,-148.56 993.19,-141.82"/>
</g>
<g>
<path fill="none" stroke="midnightblue" d="M1520.95,-313.4C1543.16,-303.77 1572.78,-290.94 1596.72,-280.56"/>
<polygon fill="midnightblue" stroke="midnightblue" points="1598.14,-283.76 1605.92,-276.58 1595.35,-277.34 1598.14,-283.76"/>
</g>
<g>
<path fill="none" stroke="midnightblue" d="M1087.48,-380.2C1060.22,-336.53 977.92,-204.64 944.62,-151.28"/>
<polygon fill="midnightblue" stroke="midnightblue" points="947.43,-149.18 939.17,-142.55 941.5,-152.89 947.43,-149.18"/>
</g>
<g>
<path fill="none" stroke="midnightblue" d="M273.3,-586.76C273.2,-534.54 280.44,-263.04 439.4,-179 510.25,-141.54 739.69,-131.86 858.15,-129.36"/>
<polygon fill="midnightblue" stroke="midnightblue" points="858.29,-132.86 868.22,-129.16 858.15,-125.86 858.29,-132.86"/>
</g>
<g>
<path fill="none" stroke="midnightblue" d="M248.97,-586.87C221,-576.99 174.47,-560.55 138.85,-547.97"/>
<polygon fill="midnightblue" stroke="midnightblue" points="139.71,-544.56 129.11,-544.53 137.38,-551.16 139.71,-544.56"/>
</g>
<g>
<path fill="none" stroke="midnightblue" d="M261.33,-586.95C247.18,-576.92 223.06,-559.8 202.4,-545 194.14,-539.08 147.96,-505.76 117.25,-483.6"/>
<polygon fill="midnightblue" stroke="midnightblue" points="119.2,-480.69 109.04,-477.68 115.1,-486.37 119.2,-480.69"/>
</g>
<g>
<path fill="none" stroke="midnightblue" d="M275.15,-586.89C280.03,-563.69 294.82,-498.2 316.4,-447 329.7,-415.45 334.77,-408.05 354.4,-380 361.21,-370.28 369.5,-360.2 376.99,-351.63"/>
<polygon fill="midnightblue" stroke="midnightblue" points="379.8,-353.73 383.84,-343.93 374.57,-349.07 379.8,-353.73"/>
</g>
<g>
<path fill="none" stroke="midnightblue" d="M265.92,-586.89C258.09,-577.35 246.17,-561.18 240.4,-545 216.79,-478.78 215.39,-394.41 216.36,-353.67"/>
<polygon fill="midnightblue" stroke="midnightblue" points="219.86,-353.72 216.67,-343.61 212.87,-353.5 219.86,-353.72"/>
</g>
<g>
<path fill="none" stroke="midnightblue" d="M320.95,-593.17C515.73,-583.61 1254.44,-547.37 1510.43,-534.82"/>
<polygon fill="midnightblue" stroke="midnightblue" points="1510.98,-538.29 1520.8,-534.31 1510.64,-531.3 1510.98,-538.29"/>
</g>
<g>
<path fill="none" stroke="midnightblue" d="M295.98,-586.87C321.71,-577.03 364.45,-560.69 397.3,-548.13"/>
<polygon fill="midnightblue" stroke="midnightblue" points="398.62,-551.37 406.71,-544.53 396.12,-544.83 398.62,-551.37"/>
</g>
<g>
<path fill="none" stroke="midnightblue" d="M1675.94,-525.47C1809.92,-519.6 2079.07,-504.83 2169.4,-478 2223.11,-462.05 2368.63,-377.07 2425.34,-343.33"/>
<polygon fill="midnightblue" stroke="midnightblue" points="2427.46,-346.14 2434.26,-338.01 2423.88,-340.13 2427.46,-346.14"/>
</g>
<g>
<path fill="none" stroke="midnightblue" d="M1676,-520.9C1761.18,-512.18 1901.89,-496.65 2022.4,-478 2023.67,-477.8 2024.95,-477.6 2026.24,-477.39"/>
<polygon fill="midnightblue" stroke="midnightblue" points="2026.96,-480.82 2036.25,-475.72 2025.81,-473.92 2026.96,-480.82"/>
</g>
<g>
<path fill="none" stroke="midnightblue" d="M1520.64,-526.5C1380.42,-522.23 1076.1,-509.84 821.4,-478 812.57,-476.9 803.22,-475.42 794.18,-473.84"/>
<polygon fill="midnightblue" stroke="midnightblue" points="794.61,-470.36 784.15,-472.02 793.36,-477.25 794.61,-470.36"/>
</g>
<g>
<path fill="none" stroke="midnightblue" d="M1520.89,-526.52C1366.81,-521.95 1033.21,-508.61 991.4,-478 951.23,-448.58 937.42,-387.9 932.74,-353.91"/>
<polygon fill="midnightblue" stroke="midnightblue" points="936.2,-353.4 931.52,-343.89 929.26,-354.24 936.2,-353.4"/>
</g>
<g>
<path fill="none" stroke="midnightblue" d="M1675.95,-522.91C1781.92,-514.59 1961.52,-497.78 1984.4,-478 2002.35,-462.48 2006.81,-434.13 2007.66,-415.3"/>
<polygon fill="midnightblue" stroke="midnightblue" points="2011.16,-415.29 2007.81,-405.24 2004.16,-415.19 2011.16,-415.29"/>
</g>
<g>
<path fill="none" stroke="midnightblue" d="M1607.45,-519.95C1622.9,-504.3 1651.09,-470.5 1633.4,-447 1598.64,-400.81 1548.46,-452.69 1508.4,-411 1493.79,-395.79 1489.31,-371.72 1488.17,-353.67"/>
<polygon fill="midnightblue" stroke="midnightblue" points="1491.67,-353.48 1487.84,-343.6 1484.67,-353.71 1491.67,-353.48"/>
</g>
<g>
<polygon fill="white" stroke="red" points="1755.9,-453 1755.9,-472 1904.9,-472 1904.9,-453 1755.9,-453"/>
<text x="1830.02" y="-460" textLength="132.13" lengthAdjust="spacingAndGlyphs">boost/mpl/lambda_fwd.hpp</text>
</g>
<g>
<path fill="none" stroke="midnightblue" d="M1629.21,-519.87C1670.58,-508.28 1744.16,-487.66 1789.95,-474.83"/>
<polygon fill="midnightblue" stroke="midnightblue" points="1791.15,-478.13 1799.84,-472.06 1789.26,-471.39 1791.15,-478.13"/>
</g>
<g>
<polygon fill="white" stroke="red" points="1823.4,-386 1823.4,-405 1925.4,-405 1925.4,-386 1823.4,-386"/>
<text x="1874.40" y="-393" textLength="85.57" lengthAdjust="spacingAndGlyphs">boost/mpl/int.hpp</text>
</g>
<g>
<path fill="none" stroke="midnightblue" d="M1676.24,-521.31C1764.76,-512.34 1899.08,-495.97 1914.4,-478 1931.34,-458.14 1909.62,-429.86 1892.17,-412.37"/>
<polygon fill="midnightblue" stroke="midnightblue" points="1894.26,-409.53 1884.61,-405.16 1889.43,-414.6 1894.26,-409.53"/>
</g>
<g>
<polygon fill="white" stroke="black" points="1516.9,-380.5 1516.9,-410.5 1647.9,-410.5 1647.9,-380.5 1516.9,-380.5"/>
<text text-anchor="start" x="1525.65" y="-398.5" textLength="113.05" lengthAdjust="spacingAndGlyphs">boost/mpl/aux_/lambda</text>
<text x="1582.02" y="-387.5" textLength="85.28" lengthAdjust="spacingAndGlyphs">_arity_param.hpp</text>
</g>
<g>
<path fill="none" stroke="midnightblue" d="M1618.3,-519.99C1634.56,-511.84 1656.43,-497.84 1666.4,-478 1672.59,-465.69 1673.19,-458.99 1666.4,-447 1658.64,-433.27 1645.48,-422.86 1631.86,-415.17"/>
<polygon fill="midnightblue" stroke="midnightblue" points="1633.38,-412.02 1622.89,-410.5 1630.14,-418.22 1633.38,-412.02"/>
</g>
<g>
<polygon fill="white" stroke="black" points="1665.9,-380.5 1665.9,-410.5 1804.9,-410.5 1804.9,-380.5 1665.9,-380.5"/>
<text text-anchor="start" x="1673.90" y="-398.5" textLength="122.22" lengthAdjust="spacingAndGlyphs">boost/mpl/aux_/template</text>
<text x="1735.40" y="-387.5" textLength="71.44" lengthAdjust="spacingAndGlyphs">_arity_fwd.hpp</text>
</g>
<g>
<path fill="none" stroke="midnightblue" d="M1618.1,-519.84C1636.29,-511.16 1663.31,-496.44 1682.4,-478 1700.03,-460.99 1714.7,-437.07 1724.11,-419.55"/>
<polygon fill="midnightblue" stroke="midnightblue" points="1727.27,-421.04 1728.78,-410.55 1721.06,-417.82 1727.27,-421.04"/>
</g>
<g>
<polygon fill="white" stroke="black" points="1290.4,-447.5 1290.4,-477.5 1448.4,-477.5 1448.4,-447.5 1290.4,-447.5"/>
<text text-anchor="start" x="1299.15" y="-465.5" textLength="140.62" lengthAdjust="spacingAndGlyphs">boost/mpl/aux_/preprocessor</text>
<text x="1369.40" y="-454.5" textLength="60.25" lengthAdjust="spacingAndGlyphs">/params.hpp</text>
</g>
<g>
<path fill="none" stroke="midnightblue" d="M1567.99,-519.87C1532.59,-509.82 1473.28,-492.99 1428.68,-480.32"/>
<polygon fill="midnightblue" stroke="midnightblue" points="1429.4,-476.89 1418.83,-477.53 1427.49,-483.63 1429.4,-476.89"/>
</g>
<g>
<polygon fill="white" stroke="black" points="1466.4,-447.5 1466.4,-477.5 1624.4,-477.5 1624.4,-447.5 1466.4,-447.5"/>
<text text-anchor="start" x="1474.40" y="-465.5" textLength="142.12" lengthAdjust="spacingAndGlyphs">boost/mpl/aux_/preprocessor</text>
<text x="1545.40" y="-454.5" textLength="52.65" lengthAdjust="spacingAndGlyphs">/enum.hpp</text>
</g>
<g>
<path fill="none" stroke="midnightblue" d="M1591.26,-519.73C1584.16,-511.03 1573,-497.34 1563.47,-485.65"/>
<polygon fill="midnightblue" stroke="midnightblue" points="1565.92,-483.13 1556.89,-477.59 1560.5,-487.55 1565.92,-483.13"/>
</g>
<g>
<polygon fill="white" stroke="red" points="1000.4,-447.5 1000.4,-477.5 1158.4,-477.5 1158.4,-447.5 1000.4,-447.5"/>
<text text-anchor="start" x="1008.40" y="-465.5" textLength="141.37" lengthAdjust="spacingAndGlyphs">boost/mpl/aux_/preprocessor</text>
<text x="1079.02" y="-454.5" textLength="102.62" lengthAdjust="spacingAndGlyphs">/def_params_tail.hpp</text>
</g>
<g>
<path fill="none" stroke="midnightblue" d="M1530.29,-519.97C1437.53,-508.35 1271.33,-487.54 1168.69,-474.68"/>
<polygon fill="midnightblue" stroke="midnightblue" points="1169.01,-471.2 1158.65,-473.43 1168.14,-478.14 1169.01,-471.2"/>
</g>
<g>
<path fill="none" stroke="midnightblue" d="M1520.73,-525.45C1399.97,-520.01 1160.09,-506.44 958.4,-478 957.14,-477.82 955.87,-477.64 954.59,-477.44"/>
<polygon fill="midnightblue" stroke="midnightblue" points="955.08,-473.98 944.65,-475.82 953.96,-480.88 955.08,-473.98"/>
</g>
<g>
<path fill="none" stroke="midnightblue" d="M1853.91,-452.87C1884.81,-441.52 1939.26,-421.52 1974.31,-408.65"/>
<polygon fill="midnightblue" stroke="midnightblue" points="1975.9,-411.8 1984.08,-405.06 1973.49,-405.23 1975.9,-411.8"/>
</g>
<g>
<path fill="none" stroke="midnightblue" d="M1836.34,-452.73C1843.13,-442.7 1854.42,-426.01 1862.95,-413.42"/>
<polygon fill="midnightblue" stroke="midnightblue" points="1865.86,-415.37 1868.56,-405.13 1860.06,-411.45 1865.86,-415.37"/>
</g>
<g>
<path fill="none" stroke="midnightblue" d="M1797.73,-452.94C1759.21,-442.84 1694.32,-425.83 1645.82,-413.12"/>
<polygon fill="midnightblue" stroke="midnightblue" points="1646.61,-409.71 1636.04,-410.56 1644.83,-416.48 1646.61,-409.71"/>
</g>
<g>
<path fill="none" stroke="midnightblue" d="M1817.59,-452.73C1804.01,-443.44 1782.12,-428.46 1764.34,-416.3"/>
<polygon fill="midnightblue" stroke="midnightblue" points="1766.22,-413.35 1756,-410.59 1762.27,-419.12 1766.22,-413.35"/>
</g>
<g>
<path fill="none" stroke="midnightblue" d="M1562.01,-380.4C1548.95,-371.37 1531.81,-359.51 1517.35,-349.52"/>
<polygon fill="midnightblue" stroke="midnightblue" points="1518.98,-346.39 1508.76,-343.58 1514.99,-352.14 1518.98,-346.39"/>
</g>
<g>
<path fill="none" stroke="midnightblue" d="M1310.5,-447.48C1267.95,-437.34 1210.33,-423.63 1165.59,-412.97"/>
<polygon fill="midnightblue" stroke="midnightblue" points="1166.21,-409.52 1155.67,-410.61 1164.59,-416.33 1166.21,-409.52"/>
</g>
<g>
<path fill="none" stroke="midnightblue" d="M1369.4,-447.4C1369.4,-439.64 1369.4,-429.81 1369.4,-420.86"/>
<polygon fill="midnightblue" stroke="midnightblue" points="1372.9,-420.58 1369.4,-410.58 1365.9,-420.58 1372.9,-420.58"/>
</g>
<g>
<path fill="none" stroke="midnightblue" d="M1466.26,-448.37C1463.27,-447.9 1460.31,-447.44 1457.4,-447 1357.32,-431.76 1241.35,-415.84 1168.43,-406.05"/>
<polygon fill="midnightblue" stroke="midnightblue" points="1168.81,-402.57 1158.43,-404.71 1167.88,-409.51 1168.81,-402.57"/>
</g>
<g>
<path fill="none" stroke="midnightblue" d="M1507.21,-447.4C1480.81,-437.64 1445.48,-424.59 1417.2,-414.15"/>
<polygon fill="midnightblue" stroke="midnightblue" points="1418.11,-410.76 1407.52,-410.58 1415.69,-417.32 1418.11,-410.76"/>
</g>
<g>
<path fill="none" stroke="midnightblue" d="M1063.46,-447.37C1037.13,-424.05 984.45,-377.38 953.87,-350.29"/>
<polygon fill="midnightblue" stroke="midnightblue" points="956.04,-347.54 946.23,-343.52 951.4,-352.78 956.04,-347.54"/>
</g>
<g>
<path fill="none" stroke="midnightblue" d="M1083.09,-447.4C1085.16,-439.47 1087.8,-429.38 1090.19,-420.27"/>
<polygon fill="midnightblue" stroke="midnightblue" points="1093.58,-421.14 1092.72,-410.58 1086.81,-419.37 1093.58,-421.14"/>
</g>
<g>
<path fill="none" stroke="midnightblue" d="M1459.02,-715.48C1552.48,-678.65 1922.95,-532.65 2052.99,-481.4"/>
<polygon fill="midnightblue" stroke="midnightblue" points="2054.64,-484.51 2062.66,-477.59 2052.07,-478 2054.64,-484.51"/>
</g>
<g>
<polygon fill="white" stroke="red" points="873.4,-654 873.4,-673 995.4,-673 995.4,-654 873.4,-654"/>
<text x="934.02" y="-661" textLength="104.83" lengthAdjust="spacingAndGlyphs">boost/mpl/eval_if.hpp</text>
</g>
<g>
<path fill="none" stroke="midnightblue" d="M1384.52,-717.74C1293.69,-707 1107.94,-685.03 1005.74,-672.94"/>
<polygon fill="midnightblue" stroke="midnightblue" points="1005.86,-669.43 995.51,-671.73 1005.03,-676.38 1005.86,-669.43"/>
</g>
<g>
<polygon fill="white" stroke="red" points="2171.4,-587 2171.4,-606 2281.4,-606 2281.4,-587 2171.4,-587"/>
<text x="2226.40" y="-594" textLength="93.70" lengthAdjust="spacingAndGlyphs">boost/mpl/void.hpp</text>
</g>
<g>
<path fill="none" stroke="midnightblue" d="M1490.05,-718.94C1562.77,-711.66 1697.93,-697.11 1812.4,-679 1945.53,-657.94 2101.15,-625.05 2178.16,-608.22"/>
<polygon fill="midnightblue" stroke="midnightblue" points="2179.03,-611.61 2188.05,-606.05 2177.53,-604.77 2179.03,-611.61"/>
</g>
<g>
<polygon fill="white" stroke="red" points="1381.4,-648.5 1381.4,-678.5 1493.4,-678.5 1493.4,-648.5 1381.4,-648.5"/>
<text text-anchor="start" x="1389.40" y="-666.5" textLength="94.75" lengthAdjust="spacingAndGlyphs">boost/mpl/aux_/has</text>
<text x="1437.01" y="-655.5" textLength="41.36" lengthAdjust="spacingAndGlyphs">_tag.hpp</text>
</g>
<g>
<path fill="none" stroke="midnightblue" d="M1437.4,-715.48C1437.4,-708.47 1437.4,-698.19 1437.4,-688.7"/>
<polygon fill="midnightblue" stroke="midnightblue" points="1440.9,-688.52 1437.4,-678.52 1433.9,-688.52 1440.9,-688.52"/>
</g>
<g>
<path fill="none" stroke="midnightblue" d="M905.36,-653.95C871.67,-643.99 814.45,-627.01 765.4,-612 670.1,-582.84 637.45,-595.28 551.4,-545 534.03,-534.85 536.05,-523.67 518.4,-514 461.3,-482.72 416.39,-529.38 376.4,-478 359.44,-456.2 386.39,-390.83 395.4,-380 418.56,-352.2 440.51,-367.04 468.4,-344 539.34,-285.42 514.29,-225.95 593.4,-179 636.91,-153.18 772.73,-139.32 858.07,-132.96"/>
<polygon fill="midnightblue" stroke="midnightblue" points="858.5,-136.44 868.22,-132.22 858,-129.46 858.5,-136.44"/>
</g>
<g>
<path fill="none" stroke="midnightblue" d="M995.45,-660.45C1255.37,-651.67 2258.08,-617.54 2290.4,-612 2389.05,-595.1 2446.09,-625.62 2505.4,-545 2577.42,-447.13 2399.6,-426.65 2287.4,-380 2089.44,-297.69 1833.88,-272.93 1710.87,-265.56"/>
<polygon fill="midnightblue" stroke="midnightblue" points="1711,-262.06 1700.82,-264.98 1710.6,-269.05 1711,-262.06"/>
</g>
<g>
<path fill="none" stroke="midnightblue" d="M873.4,-656.5C746.42,-644.01 455.18,-615.38 331.1,-603.17"/>
<polygon fill="midnightblue" stroke="midnightblue" points="331.34,-599.68 321.04,-602.18 330.65,-606.65 331.34,-599.68"/>
</g>
<g>
<path fill="none" stroke="midnightblue" d="M973.06,-654C1042.62,-638.77 1193.56,-606.11 1321.4,-581 1396.36,-566.28 1483.03,-550.71 1539.17,-540.82"/>
<polygon fill="midnightblue" stroke="midnightblue" points="1540.05,-544.22 1549.29,-539.04 1538.84,-537.32 1540.05,-544.22"/>
</g>
<g>
<path fill="none" stroke="midnightblue" d="M873.13,-658.69C778.41,-652.12 601.33,-636.91 543.4,-612 511.4,-598.24 481.36,-571.1 462.72,-551.93"/>
<polygon fill="midnightblue" stroke="midnightblue" points="465.11,-549.37 455.69,-544.52 460.03,-554.18 465.11,-549.37"/>
</g>
<g>
<path fill="none" stroke="midnightblue" d="M2244.48,-586.87C2264.07,-577.31 2296.06,-561.12 2322.4,-545 2342.81,-532.52 2346.45,-527.2 2366.4,-514 2391.7,-497.26 2407.58,-503.25 2424.4,-478 2451.12,-437.9 2451.79,-378.46 2450.09,-348.39"/>
<polygon fill="midnightblue" stroke="midnightblue" points="2453.55,-347.8 2449.33,-338.09 2446.57,-348.31 2453.55,-347.8"/>
</g>
<g>
<path fill="none" stroke="midnightblue" d="M2227.32,-586.98C2232.35,-538.38 2254.67,-296.55 2206.4,-246 2122.88,-158.52 1260.46,-134.87 1002.74,-129.74"/>
<polygon fill="midnightblue" stroke="midnightblue" points="1002.81,-126.24 992.74,-129.54 1002.67,-133.24 1002.81,-126.24"/>
</g>
<g>
<path fill="none" stroke="midnightblue" d="M2235.13,-586.91C2251.37,-571.21 2287.76,-537.32 2322.4,-514 2351.1,-494.69 2373.47,-507.58 2391.4,-478 2398.55,-466.22 2399.49,-458.15 2391.4,-447 2363.27,-408.2 2028.06,-323.97 1981.4,-313 1889.12,-291.29 1780.55,-277.18 1710.67,-269.53"/>
<polygon fill="midnightblue" stroke="midnightblue" points="1710.97,-266.05 1700.65,-268.45 1710.22,-273.01 1710.97,-266.05"/>
</g>
<g>
<path fill="none" stroke="midnightblue" d="M2171.22,-589.79C2062.05,-578.49 1817.72,-553.2 1686.2,-539.59"/>
<polygon fill="midnightblue" stroke="midnightblue" points="1686.46,-536.1 1676.16,-538.55 1685.74,-543.06 1686.46,-536.1"/>
</g>
<g>
<path fill="none" stroke="midnightblue" d="M908.7,-586.47C983.55,-573.52 1104.78,-543.55 1187.4,-478 1227.59,-446.11 1215.65,-419.49 1248.4,-380 1259.22,-366.96 1273.32,-354.07 1284.54,-344.58"/>
<polygon fill="midnightblue" stroke="midnightblue" points="1286.98,-347.11 1292.46,-338.04 1282.52,-341.71 1286.98,-347.11"/>
</g>
<g>
<path fill="none" stroke="midnightblue" d="M827.3,-581.4C816.96,-571.06 802.93,-557.02 792.21,-546.31"/>
<polygon fill="midnightblue" stroke="midnightblue" points="794.64,-543.79 785.1,-539.19 789.69,-548.74 794.64,-543.79"/>
</g>
<g>
<polygon fill="white" stroke="black" points="602.4,-179.5 602.4,-209.5 726.4,-209.5 726.4,-179.5 602.4,-179.5"/>
<text text-anchor="start" x="610.40" y="-197.5" textLength="106.92" lengthAdjust="spacingAndGlyphs">boost/mpl/aux_/config</text>
<text x="664.02" y="-186.5" textLength="75.64" lengthAdjust="spacingAndGlyphs">/forwarding.hpp</text>
</g>
<g>
<path fill="none" stroke="midnightblue" d="M794.66,-581.46C737.53,-564.52 637.78,-535.6 551.4,-514 479.01,-495.9 434.17,-536.15 387.4,-478 361.5,-445.79 418.5,-386.41 425.4,-380 452.79,-354.56 470.36,-364.81 501.4,-344 558.32,-305.84 615.34,-248.44 644.48,-217.36"/>
<polygon fill="midnightblue" stroke="midnightblue" points="647.37,-219.4 651.61,-209.7 642.24,-214.64 647.37,-219.4"/>
</g>
<g>
<path fill="none" stroke="midnightblue" d="M721.79,-179.48C763.17,-169.37 819.16,-155.68 862.72,-145.04"/>
<polygon fill="midnightblue" stroke="midnightblue" points="863.77,-148.38 872.66,-142.61 862.11,-141.58 863.77,-148.38"/>
</g>
<g>
<path fill="none" stroke="midnightblue" d="M2449,-514.37C2477.19,-483.52 2539.4,-406.68 2539.4,-329.5 2539.4,-329.5 2539.4,-329.5 2539.4,-260.5 2539.4,-225.37 2710.32,-259.47 2378.4,-179 2244.38,-146.5 1277.34,-132.62 1002.87,-129.31"/>
<polygon fill="midnightblue" stroke="midnightblue" points="1002.67,-125.81 992.62,-129.19 1002.58,-132.81 1002.67,-125.81"/>
</g>
<g>
<path fill="none" stroke="midnightblue" d="M2374.77,-516.8C2317.41,-505.74 2231.3,-489.13 2170.47,-477.4"/>
<polygon fill="midnightblue" stroke="midnightblue" points="2171.03,-473.94 2160.55,-475.49 2169.71,-480.82 2171.03,-473.94"/>
</g>
</g>
</svg>

</body></html>
